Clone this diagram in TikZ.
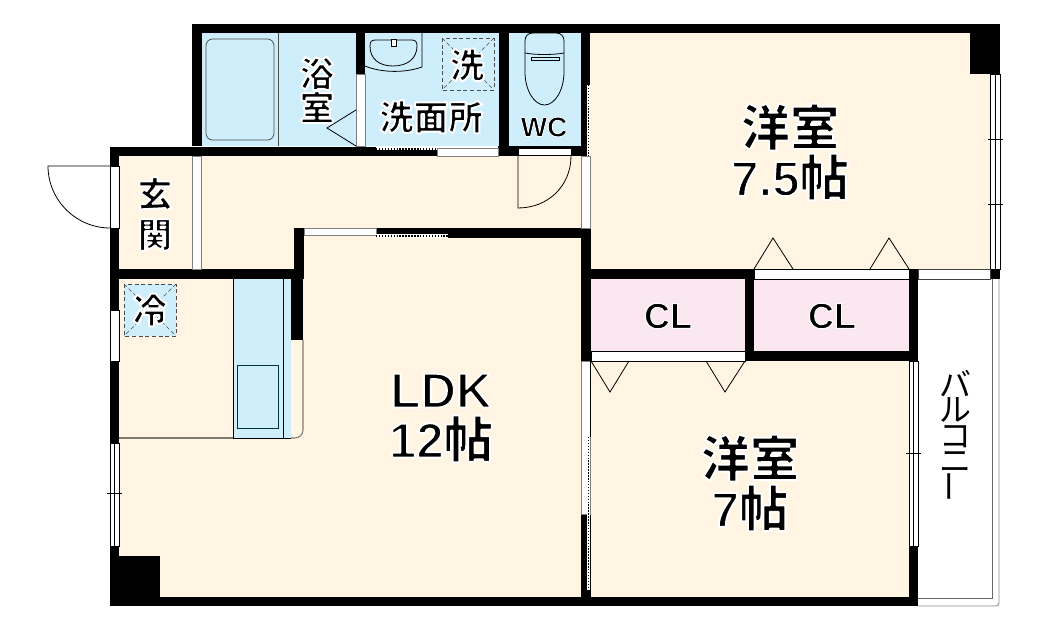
\documentclass[tikz,border=0pt]{standalone}
\usepackage{fontspec}
\usepackage{graphicx}
\usetikzlibrary{positioning}
\setmainfont{Liberation Sans}
\newfontfamily\cjk{Noto Sans CJK JP}
\newcommand{\halo}[2][1.5]{\bfseries\special{pdf:code 1 j 2 Tr #1 w 1 1 1 RG}#2\special{pdf:code 0 Tr 0 j 0 0 0 RG}}
\tikzset{
  floorarea/.style={fill=floorcol},
  wetarea/.style={fill=wetcol},
  closetarea/.style={fill=closetcol},
  wall/.style={fill=black},
  opening/.style={fill=white,draw=black,line width=0.6pt},
  graygap/.style={fill=white,draw=gray,line width=0.6pt},
  thinline/.style={draw=black,line width=0.6pt},
  slide/.style={draw=black,line width=1.1pt,dash pattern=on 1.1pt off 1.1pt},
  markbox/.style={wetarea,draw=black!70,line width=0.6pt,dash pattern=on 3pt off 2pt},
  bigtext/.style={align=center,font=\fontsize{37}{37.5}\selectfont},
  midtext/.style={align=center,font=\cjk\fontsize{26}{25.5}\selectfont},
}
\definecolor{floorcol}{HTML}{FFF5E2}
\definecolor{wetcol}{HTML}{CFEEFC}
\definecolor{closetcol}{HTML}{FBE7F0}
\begin{document}
\begin{tikzpicture}[x=0.75pt,y=-0.75pt]
      \useasboundingbox (0,0) rectangle (1051,631);
      \fill[floorarea] (119,156) rectangle (581,597);
      \fill[floorarea] (590,33) rectangle (990,269);
      \fill[floorarea] (590,361) rectangle (909,597);
      \fill[wetarea] (202,33) rectangle (356,146);
      \fill[wetarea] (365,33) rectangle (499,146);
      \fill[wetarea] (509,33) rectangle (581,146);
      \fill[closetarea] (591,279) rectangle (745,351);
      \fill[closetarea] (754,279) rectangle (909,351);
      \fill[wetarea] (233,279) rectangle (291,438);
      \draw[thinline] (233,279) -- (233,438) -- (291,438);
      \draw[thinline] (283,279) -- (283,438);
      \draw[draw=black!60!teal,line width=0.6pt] (237,365) rectangle (278,428);
      \draw[draw=black!50!floorcol,line width=1.2pt] (119,438) -- (233,438);
      \draw[draw=black!50!floorcol,line width=0.8pt] (291,438) -- (295,438) arc[start angle=90,end angle=0,radius=8] -- (303,340);
      % walls
      \fill[wall] (192,24) rectangle (1000,33);
      \fill[wall] (970,24) rectangle (1000,74);
      \fill[wall] (192,24) rectangle (202,146);
      \fill[wall] (110,147) rectangle (437,156);
      \fill[wall] (498,146) rectangle (587,156);
      \fill[wall] (356,33) rectangle (365,74);
      \fill[wall] (499,33) rectangle (509,146);
      \fill[wall] (581,33) rectangle (590,85);
      \fill[wall] (581,85) rectangle (587,146);
      \fill[wall] (110,147) rectangle (119,606);
      \fill[wall] (110,556) rectangle (160,606);
      \fill[wall] (110,597) rectangle (918,606);
      \fill[wall] (110,269) rectangle (304,279);
      \fill[wall] (294,228) rectangle (304,279);
      \fill[wall] (291,279) rectangle (303,340);
      \fill[wall] (376,228) rectangle (590,234);
      \fill[wall] (448,228) rectangle (590,238);
      \fill[wall] (581,228) rectangle (591,361);
      \fill[wall] (581,514) rectangle (591,597);
      \fill[wall] (581,269) rectangle (754,279);
      \fill[wall] (745,269) rectangle (754,361);
      \fill[wall] (745,351) rectangle (918,361);
      \fill[wall] (909,269) rectangle (918,361);
      \fill[wall] (909,361) rectangle (918,606);
      \fill[wall] (990,269) rectangle (1000,279);
      % openings
      \path[graygap] (356,74) rectangle (365,146);
      \path[graygap] (437,148) rectangle (498,156);
      \path[opening] (518,148) rectangle (571,155);
      \path[graygap] (581,156) rectangle (590,228);
      \path[graygap] (192,156) rectangle (201,269);
      \path[graygap] (304,228) rectangle (376,235);
      \path[opening] (110,166) rectangle (119,228);
      \path[opening] (110,310) rectangle (119,361);
      \path[opening] (110,443) rectangle (119,546);
      \draw[thinline] (114.5,443) -- (114.5,546);
      \draw[thinline] (107,493) -- (122,493);
      \path[opening] (754,269) rectangle (909,279);
      \path[opening] (591,351) rectangle (745,361);
      \path[opening] (990,74) rectangle (1000,269);
      \draw[thinline] (995.5,74) -- (995.5,269);
      \draw[thinline] (988,139) -- (1003,139);
      \draw[thinline] (988,204) -- (1003,204);
      \path[opening] (909,361) rectangle (918,546);
      \draw[thinline] (913.5,361) -- (913.5,546);
      \draw[thinline] (906,453) -- (921,453);
      \path[graygap] (581,361) rectangle (590,514);
      \draw[thinline] (590,361) -- (590,437);
      \draw[thinline] (587,437) -- (587,514);
      \draw[fill=white,draw=none] (587,85) rectangle (590,156);
      \draw[fill=white,draw=none] (587,437) rectangle (590,590);
      \draw[slide] (588.7,85) -- (588.7,156);
      \draw[slide] (588.7,437) -- (588.7,590);
      \draw[fill=white,draw=none] (376,147) rectangle (437,150);
      \draw[slide] (376,149) -- (437,149);
      \draw[fill=white,draw=none] (376,234) rectangle (448,238);
      \draw[slide] (376,236) -- (448,236);
      % balcony
      \path[fill=white,draw=black!75,line width=0.7pt] (918,269) rectangle (990,279);
      \draw[draw=black!60,line width=0.7pt] (992,279) -- (992,598) -- (918,598);
      \draw[draw=black!45,line width=0.7pt] (999,279) -- (999,603) arc[start angle=0,end angle=90,radius=3] -- (918,606);
      % doors
      \draw[thinline] (110,166) -- (48,166) .. controls (48,200) and (76,228) .. (110,228);
      \draw[thinline] (518,156) -- (518,208) .. controls (548,208) and (571,186) .. (571,156);
      \draw[thinline] (356,110) -- (327,128) -- (356,146);
      \draw[thinline] (754,269) -- (773,238) -- (793,269);
      \draw[thinline] (870,269) -- (889,238) -- (909,269);
      \draw[thinline] (591,361) -- (610,392) -- (629,361);
      \draw[thinline] (706,361) -- (725,392) -- (745,361);
      % fixtures
      \draw[draw=black!70,line width=0.6pt] (278,33) -- (278,146);
      \draw[draw=black!70,line width=0.6pt,rounded corners=5pt] (206,39) rectangle (274,140);
      \draw[thinline] (422,33) -- (422,67) .. controls (405,73) and (382,73) .. (365,66);
      \draw[thinline] (370,46) .. controls (370,41) and (372,40) .. (376,40) -- (411,40) .. controls (415,40) and (417,41) .. (417,46)
        .. controls (417,58) and (408,66) .. (393,66) .. controls (378,66) and (370,58) .. (370,46) -- cycle;
      \draw[thinline,fill=white] (391,39) rectangle (396,46);
      \draw[thinline] (525,53) -- (525,41) .. controls (525,36) and (528,33) .. (533,33) -- (556,33) .. controls (561,33) and (564,36) .. (564,41) -- (564,53);
      \draw[thinline] (525,53) .. controls (535,55) and (554,55) .. (564,53);
      \draw[thinline] (525,53) -- (525,72) .. controls (525,90) and (534,105) .. (544.5,105) .. controls (555,105) and (564,90) .. (564,72) -- (564,53);
      \draw[thinline] (531,57) rectangle (559,60);
      \path[markbox] (442,38) rectangle (494,90);
      \draw[draw=black!70,line width=0.5pt,dash pattern=on 3pt off 2pt] (442,38) -- (494,90) (494,38) -- (442,90);
      \path[markbox] (124,284) rectangle (176,336);
      \draw[draw=black!70,line width=0.5pt,dash pattern=on 3pt off 2pt] (124,284) -- (176,336) (176,284) -- (124,336);
      % labels
      \node[bigtext] (room1) at (790,152) {\cjk\halo{洋室}\\\halo{7.5{\cjk 帖}}};
      \node[bigtext] (room2) at (750,483) {\cjk\halo{洋室}\\\halo{7{\cjk 帖}}};
      \node[bigtext] (ldk) at (441,418) {\halo{LDK}\\\halo{12{\cjk 帖}}};
      \node[font=\fontsize{27}{27}\selectfont] (cl1) at (668,316) {\halo[0.8]{CL}};
      \node[font=\fontsize{27}{27}\selectfont] (cl2) at (832,316) {\halo[0.8]{CL}};
      \node[font=\fontsize{21}{21}\selectfont] (wc) at (544,127) {\halo[0.6]{WC}};
      \node[midtext] (bath) at (317,90) {\halo{浴}\\\halo{室}};
      \node[midtext] (wash) at (431,117) {\halo{洗面所}};
      \node[midtext] (washer) at (467,65) {\halo{洗}};
      \node[midtext] (fridge) at (150,310) {\halo{冷}};
      \node[midtext,font=\cjk\fontsize{26}{30.5}\selectfont] (entry) at (155,214) {\halo{玄}\\\halo{関}};
      \node[align=center,font=\cjk\fontsize{24}{19}\selectfont] (balcony) at (955,434) {バ\\ル\\コ\\ニ\\\smash{\raisebox{3pt}{\rotatebox[origin=c]{90}{ー}}}};
    \end{tikzpicture}
\end{document}
